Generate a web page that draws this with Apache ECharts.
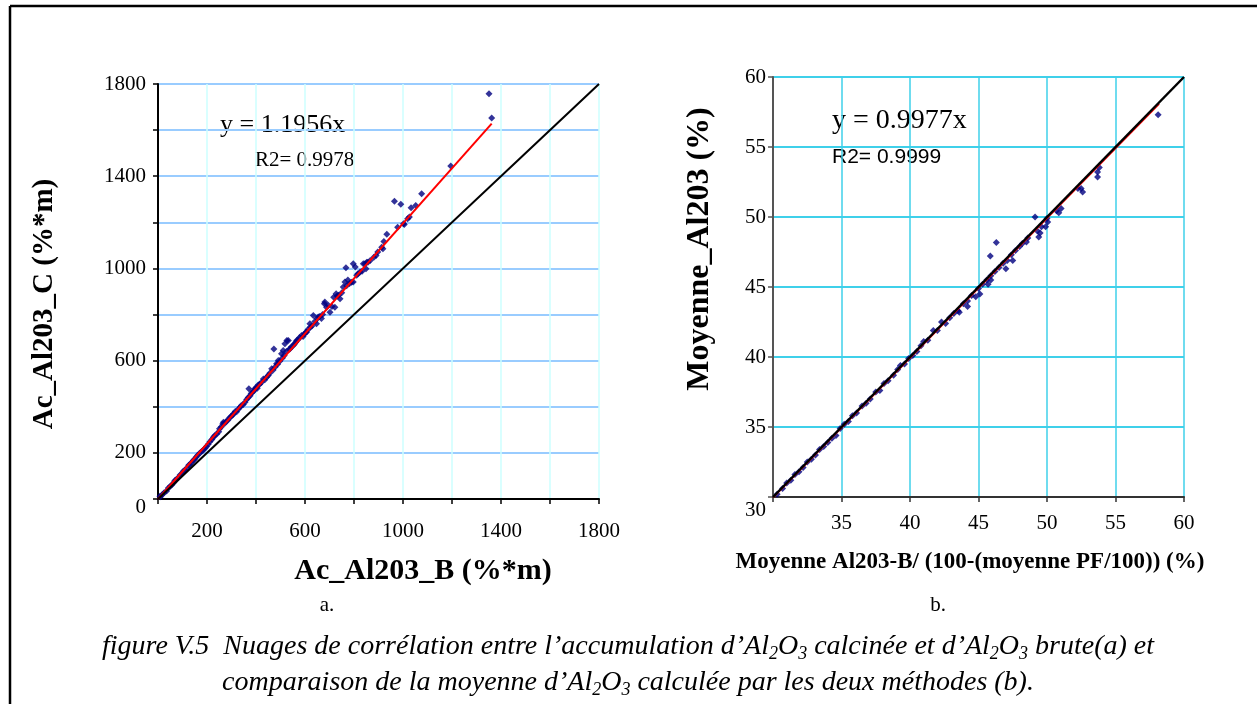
<!DOCTYPE html>
<html>
<head>
<meta charset="utf-8">
<script src="https://cdn.jsdelivr.net/npm/echarts@6/dist/echarts.min.js"></script>
<style>
html,body{margin:0;padding:0;background:#fff;}
#c{width:1257px;height:704px;}
</style>
</head>
<body>
<div id="c"></div>
<script>
// ---------- DATA ----------
// Chart a: Ac_Al203_B (x) vs Ac_Al203_C (y)
const aX = [8,10,18,25,35,42,50,57,65,69,75,82,90,97,103,110,118,125,130,137,144,150,156,162,170,178,185,192,198,205,212,220,226,232,240,248,251,258,264,267,272,278,285,292,298,305,308,315,321,328,335,340,348,355,362,368,371,376,380,386,392,396,400,405,409,
  415,422,430,436,443,450,456,464,470,473,478,484,488,491,497,504,508,511,515,518,524,526,532,536,539,545,552,558,562,566,572,578,586,592,598,603,607,612,620,622,628,634,640,647,650,654,660,667,672,679,681,688,695,702,710,717,722,727,731,737,743,750,756,763,767,770,775,782,790,797,797,805,811,816,825,833,838,845,849,852,857,866,881,890,897,913,918,922,934,965,978,991,1002,1005,1019,1026,1033,1052,1076,1195,1351,1362];
const aY = [12,10,20,27,35,48,55,62,72,80,85,92,104,110,120,126,135,146,150,158,167,174,182,190,198,206,212,220,228,237,248,258,268,275,282,292,305,312,325,333,328,336,342,352,358,364,370,380,378,390,398,406,410,420,432,440,478,448,458,464,470,478,484,480,495,
  498,505,521,517,528,536,545,565,560,651,572,587,584,601,598,630,612,644,622,673,640,688,688,650,652,660,666,673,680,688,692,700,709,705,717,722,724,735,760,745,750,796,770,760,783,789,792,783,800,847,854,832,840,810,835,875,832,890,880,884,869,895,919,941,1003,925,950,935,940,941,1020,1006,970,977,985,988,1020,1020,999,1027,1027,1035,1049,1056,1071,1092,1085,1117,1148,1291,1179,1278,1194,1191,1216,1223,1263,1273,1324,1444,1758,1652];
const aFitX = [0, 1362];      // y = 1.1956x
const aFitY = [0, 1628];
const aDiagX = [0, 1800];
const aDiagY = [0, 1800];
const aEquation = 'y = 1.1956x';
const aR2 = 'R2= 0.9978';
const aLabels = [200, 600, 1000, 1400, 1800];

// Chart b: Moyenne Al203-B/(100-(moyenne PF/100)) (x) vs Moyenne_Al203 (y)
const bX = [30.3,30.7,31.0,31.3,31.6,31.9,32.2,32.5,32.8,33.1,33.4,33.7,34.0,34.3,34.6,34.9,35.2,35.5,35.8,36.1,36.5,36.8,37.1,37.5,37.8,38.1,38.4,38.8,39.1,39.3,39.6,39.9,40.2,40.5,40.8,41.0,41.3,41.7,42.0,42.3,42.6,42.9,43.2,43.5,43.6,43.9,44.2,44.2,44.5,44.8,45.1,45.0,45.3,45.6,45.7,45.9,45.9,46.2,45.86,46.3,46.5,46.8,47.0,47.1,47.4,47.5,47.7,48.0,48.2,48.5,48.6,49.4,49.5,49.3,49.13,49.6,49.9,50.05,50.0,50.7,50.86,51.03,52.26,52.49,52.6,53.69,53.69,53.82,58.11];
const bY = [30.2,30.6,31.0,31.2,31.6,31.8,32.1,32.5,32.7,33.0,33.4,33.6,33.9,34.2,34.4,34.9,35.2,35.4,35.8,36.0,36.5,36.7,37.0,37.5,37.6,38.1,38.3,38.7,39.1,39.4,39.5,39.9,40.1,40.4,40.8,41.1,41.2,41.9,41.9,42.5,42.4,42.8,43.1,43.3,43.2,43.8,44.0,43.6,44.4,44.3,44.5,44.9,45.2,45.5,45.2,45.5,45.8,46.1,47.21,48.17,46.4,46.7,46.3,46.9,47.3,46.9,47.6,47.9,48.1,48.21,48.5,48.57,48.86,49.0,50.0,49.3,49.3,49.64,49.9,50.45,50.31,50.6,52.03,52.03,51.79,52.86,53.21,53.53,57.31];
const bFitX = [30, 58.2];     // y = 0.9977x
const bFitY = [29.93, 58.07];
const bDiagX = [30, 60];
const bDiagY = [30, 60];
const bEquation = 'y = 0.9977x';
const bR2 = 'R2= 0.9999';
const bLabels = [35, 40, 45, 50, 55, 60];

const titleAY = 'Ac_Al203_C (%*m)';
const titleAX = 'Ac_Al203_B (%*m)';
const titleBY = 'Moyenne_Al203 (%)';
const titleBX = 'Moyenne Al203-B/ (100-(moyenne PF/100)) (%)';
// ---------------------------------------------------

const pairs = (xs, ys) => xs.map((x, i) => [x, ys[i]]);
const SERIF = '"Liberation Serif", "Times New Roman", serif';
const SANS = '"Liberation Sans", Arial, sans-serif';

const chart = echarts.init(document.getElementById('c'), null, {renderer: 'canvas'});

const capRich = {
  n: {fontFamily: SERIF, fontStyle: 'italic', fontSize: 28, lineHeight: 32, verticalAlign: 'middle', color: '#000'},
  s: {fontFamily: SERIF, fontStyle: 'italic', fontSize: 18, lineHeight: 17, verticalAlign: 'bottom', color: '#000'}
};

const option = {
  backgroundColor: '#fff',
  animation: false,
  grid: [
    {left: 158, top: 84, width: 441, height: 415, containLabel: false},
    {left: 773, top: 77, width: 411, height: 420, containLabel: false}
  ],
  xAxis: [
    {
      type: 'value', gridIndex: 0, min: 0, max: 1800, interval: 200,
      axisLine: {show: true, onZero: false, lineStyle: {color: '#000', width: 2}},
      axisTick: {show: true, length: 5, lineStyle: {color: '#000', width: 1.5}},
      axisLabel: {show: true, margin: 22, fontFamily: SERIF, fontSize: 21, color: '#000',
        showMinLabel: true, showMaxLabel: true, hideOverlap: false,
        formatter: v => aLabels.indexOf(v) >= 0 ? String(v) : ''},
      splitLine: {show: true, lineStyle: {color: '#ccffff', width: 1.5}}
    },
    {
      type: 'value', gridIndex: 1, min: 30, max: 60, interval: 5,
      axisLine: {show: true, onZero: false, lineStyle: {color: '#333', width: 2}},
      axisTick: {show: true, length: 5, lineStyle: {color: '#333', width: 1.5}},
      axisLabel: {show: true, margin: 16, fontFamily: SERIF, fontSize: 21, color: '#000',
        showMinLabel: true, showMaxLabel: true, hideOverlap: false,
        formatter: v => bLabels.indexOf(v) >= 0 ? String(v) : ''},
      splitLine: {show: true, lineStyle: {color: '#3fd0ea', width: 1.5}}
    }
  ],
  yAxis: [
    {
      type: 'value', gridIndex: 0, min: 0, max: 1800, interval: 200,
      axisLine: {show: true, onZero: false, lineStyle: {color: '#000', width: 2}},
      axisTick: {show: true, length: 5, lineStyle: {color: '#000', width: 1.5}},
      axisLabel: {show: true, margin: 12, fontFamily: SERIF, fontSize: 21, color: '#000',
        showMinLabel: true, showMaxLabel: true, hideOverlap: false,
        formatter: v => v === 0 ? '{z|0}' : (aLabels.indexOf(v) >= 0 ? String(v) : ''),
        rich: {z: {fontFamily: SERIF, fontSize: 21, color: '#000', padding: [16, 0, 0, 0]}}},
      splitLine: {show: true, lineStyle: {color: '#99ccff', width: 2}}
    },
    {
      type: 'value', gridIndex: 1, min: 30, max: 60, interval: 5,
      axisLine: {show: true, onZero: false, lineStyle: {color: '#555', width: 2}},
      axisTick: {show: true, length: 5, lineStyle: {color: '#555', width: 1.5}},
      axisLabel: {show: true, margin: 7, fontFamily: SERIF, fontSize: 21, color: '#000',
        showMinLabel: true, showMaxLabel: true, hideOverlap: false,
        formatter: v => v === 30 ? '{z|30}' : String(v),
        rich: {z: {fontFamily: SERIF, fontSize: 21, color: '#000', padding: [26, 0, 0, 0]}}},
      splitLine: {show: true, lineStyle: {color: '#3fd0ea', width: 2}}
    }
  ],
  series: [
    {type: 'scatter', xAxisIndex: 0, yAxisIndex: 0, data: pairs(aX, aY), symbol: 'diamond', symbolSize: 7,
      itemStyle: {color: '#000080'}, z: 2},
    {type: 'line', xAxisIndex: 0, yAxisIndex: 0, data: pairs(aFitX, aFitY), symbol: 'none',
      lineStyle: {color: '#ff0000', width: 2}, z: 3},
    {type: 'line', xAxisIndex: 0, yAxisIndex: 0, data: pairs(aDiagX, aDiagY), symbol: 'none',
      lineStyle: {color: '#000', width: 2}, z: 4},
    {type: 'scatter', xAxisIndex: 1, yAxisIndex: 1, data: pairs(bX, bY), symbol: 'diamond', symbolSize: 7,
      itemStyle: {color: '#000080'}, z: 2},
    {type: 'line', xAxisIndex: 1, yAxisIndex: 1, data: pairs(bFitX, bFitY), symbol: 'none',
      lineStyle: {color: '#ff0000', width: 1.2}, z: 3},
    {type: 'line', xAxisIndex: 1, yAxisIndex: 1, data: pairs(bDiagX, bDiagY), symbol: 'none',
      lineStyle: {color: '#000', width: 2.5}, z: 4}
  ],
  graphic: [
    // frame
    {type: 'line', shape: {x1: 10, y1: 6, x2: 1257, y2: 6}, style: {stroke: '#000', lineWidth: 2.5}, silent: true},
    {type: 'line', shape: {x1: 10, y1: 6, x2: 10, y2: 704}, style: {stroke: '#000', lineWidth: 2.5}, silent: true},
    // annotations
    {type: 'text', x: 220, y: 125, style: {text: aEquation, font: '26px ' + SERIF, fill: '#000', textVerticalAlign: 'middle'}},
    {type: 'text', x: 255, y: 160, style: {text: aR2, font: '21px ' + SERIF, fill: '#000', textVerticalAlign: 'middle'}},
    {type: 'text', x: 832, y: 121, style: {text: bEquation, font: '28px ' + SERIF, fill: '#000', textVerticalAlign: 'middle'}},
    {type: 'text', x: 832, y: 157, style: {text: bR2, font: '21px ' + SANS, fill: '#000', textVerticalAlign: 'middle'}},
    // axis titles
    {type: 'text', x: 45, y: 304, rotation: Math.PI / 2,
      style: {text: titleAY, font: 'bold 29px ' + SERIF, fill: '#000', textAlign: 'center', textVerticalAlign: 'middle'}},
    {type: 'text', x: 423, y: 571,
      style: {text: titleAX, font: 'bold 30px ' + SERIF, fill: '#000', textAlign: 'center', textVerticalAlign: 'middle'}},
    {type: 'text', x: 700, y: 249, rotation: Math.PI / 2,
      style: {text: titleBY, font: 'bold 32px ' + SERIF, fill: '#000', textAlign: 'center', textVerticalAlign: 'middle'}},
    {type: 'text', x: 970, y: 562,
      style: {text: titleBX, font: 'bold 23px ' + SERIF, fill: '#000', textAlign: 'center', textVerticalAlign: 'middle'}},
    // panel letters
    {type: 'text', x: 327, y: 605, style: {text: 'a.', font: '21px ' + SERIF, fill: '#000', textAlign: 'center', textVerticalAlign: 'middle'}},
    {type: 'text', x: 938, y: 605, style: {text: 'b.', font: '21px ' + SERIF, fill: '#000', textAlign: 'center', textVerticalAlign: 'middle'}},
    // caption
    {type: 'text', x: 628, y: 647, style: {
      text: '{n|figure V.5  Nuages de corrélation entre l’accumulation d’Al}{s|2}{n|O}{s|3}{n| calcinée et d’Al}{s|2}{n|O}{s|3}{n| brute(a) et}',
      rich: capRich, textAlign: 'center', textVerticalAlign: 'middle'}},
    {type: 'text', x: 628, y: 683, style: {
      text: '{n|comparaison de la moyenne d’Al}{s|2}{n|O}{s|3}{n| calculée par les deux méthodes (b).}',
      rich: capRich, textAlign: 'center', textVerticalAlign: 'middle'}}
  ]
};
chart.setOption(option);
</script>
</body>
</html>
